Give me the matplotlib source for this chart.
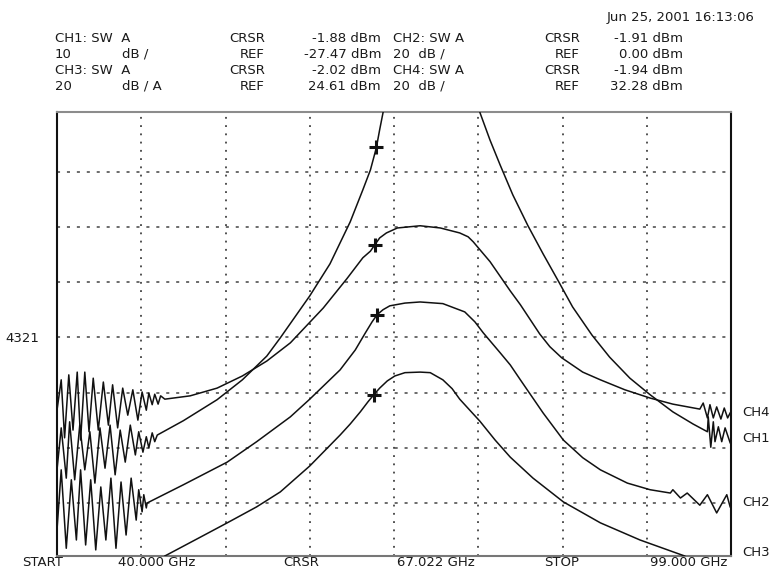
import matplotlib
matplotlib.use("Agg")
import matplotlib.pyplot as plt

W, H = 774, 571

# traces, x and y in graticule divisions (8 x 8)
ch1_x = [0.00, 0.05, 0.11, 0.15, 0.21, 0.27, 0.33, 0.39, 0.45, 0.51, 0.57, 0.63,
         0.69, 0.75, 0.81, 0.87, 0.93, 0.97, 1.02, 1.06, 1.09, 1.13, 1.16, 1.19,
         1.50, 1.90, 2.20, 2.49, 2.65, 3.00, 3.24, 3.48, 3.63, 3.72, 3.79, 3.83,
         3.87, 3.89, 5.00, 5.02, 5.14, 5.26, 5.41, 5.59, 5.77, 5.95, 6.12, 6.35,
         6.56, 6.80, 7.04, 7.31, 7.55, 7.72, 7.73, 7.76, 7.79, 7.81, 7.85, 7.89,
         7.93, 7.99]
ch1_y = [1.60, 2.36, 1.45, 2.47, 1.42, 2.41, 1.60, 2.29, 1.36, 2.36, 1.63, 2.41,
         1.51, 2.32, 1.74, 2.41, 1.87, 2.29, 1.92, 2.20, 2.00, 2.27, 2.11, 2.23,
         2.49, 2.87, 3.23, 3.66, 3.99, 4.75, 5.33, 6.09, 6.67, 7.03, 7.43, 7.76,
         8.07, 8.30, 8.30, 8.07, 7.57, 7.12, 6.58, 6.02, 5.51, 5.02, 4.55, 4.04,
         3.64, 3.26, 2.96, 2.65, 2.43, 2.29, 2.56, 2.01, 2.47, 2.11, 2.38, 2.11,
         2.36, 2.09]

ch4_x = [0.00, 0.05, 0.09, 0.14, 0.19, 0.24, 0.28, 0.33, 0.38, 0.43, 0.49, 0.55,
         0.61, 0.66, 0.72, 0.78, 0.84, 0.90, 0.96, 1.01, 1.06, 1.09, 1.13, 1.16,
         1.20, 1.23, 1.28, 1.58, 1.90, 2.20, 2.49, 2.77, 3.16, 3.44, 3.63, 3.72,
         3.77, 3.83, 3.91, 4.04, 4.31, 4.55, 4.78, 4.88, 4.94, 5.14, 5.38, 5.50,
         5.73, 5.85, 5.99, 6.24, 6.45, 6.74, 7.04, 7.31, 7.63, 7.67, 7.72, 7.75,
         7.79, 7.83, 7.88, 7.92, 7.96, 7.99]
ch4_y = [2.68, 3.23, 2.18, 3.32, 2.32, 3.37, 2.14, 3.37, 2.29, 3.26, 2.32, 3.19,
         2.41, 3.14, 2.36, 3.08, 2.59, 3.05, 2.50, 3.01, 2.68, 2.99, 2.78, 2.97,
         2.79, 2.94, 2.88, 2.94, 3.08, 3.30, 3.57, 3.90, 4.53, 5.06, 5.44, 5.56,
         5.67, 5.80, 5.89, 5.98, 6.02, 5.98, 5.89, 5.82, 5.73, 5.37, 4.84, 4.59,
         4.06, 3.83, 3.63, 3.37, 3.23, 3.05, 2.90, 2.79, 2.70, 2.81, 2.54, 2.78,
         2.54, 2.74, 2.52, 2.72, 2.54, 2.63]

ch2_x = [0.00, 0.05, 0.11, 0.17, 0.23, 0.28, 0.34, 0.40, 0.46, 0.52, 0.58, 0.64,
         0.70, 0.76, 0.82, 0.88, 0.94, 0.97, 1.01, 1.03, 1.06, 1.07, 1.50, 2.02,
         2.37, 2.77, 3.00, 3.36, 3.54, 3.66, 3.74, 3.80, 3.87, 3.95, 4.13, 4.31,
         4.58, 4.84, 4.96, 5.06, 5.26, 5.38, 5.50, 5.77, 6.01, 6.24, 6.45, 6.77,
         7.04, 7.28, 7.31, 7.40, 7.48, 7.63, 7.72, 7.83, 7.95, 7.99]
ch2_y = [0.51, 1.60, 0.18, 1.42, 0.33, 1.60, 0.24, 1.42, 0.15, 1.29, 0.33, 1.45,
         0.18, 1.38, 0.42, 1.45, 0.69, 1.24, 0.84, 1.15, 0.91, 1.00, 1.33, 1.74,
         2.11, 2.56, 2.88, 3.41, 3.77, 4.08, 4.28, 4.41, 4.50, 4.57, 4.62, 4.64,
         4.61, 4.46, 4.28, 4.08, 3.72, 3.50, 3.23, 2.63, 2.14, 1.82, 1.60, 1.36,
         1.24, 1.18, 1.24, 1.09, 1.18, 0.96, 1.15, 0.82, 1.15, 0.93]

ch3_x = [1.28, 1.70, 2.02, 2.37, 2.65, 3.00, 3.36, 3.48, 3.60, 3.69, 3.76, 3.83,
         3.92, 4.01, 4.13, 4.31, 4.43, 4.58, 4.69, 4.78, 4.90, 5.02, 5.20, 5.38,
         5.65, 6.01, 6.45, 6.92, 7.45]
ch3_y = [0.04, 0.38, 0.64, 0.93, 1.20, 1.67, 2.23, 2.43, 2.65, 2.83, 2.96, 3.08,
         3.21, 3.30, 3.36, 3.37, 3.36, 3.23, 3.07, 2.88, 2.68, 2.48, 2.14, 1.83,
         1.45, 1.02, 0.64, 0.33, 0.04]

# cursor markers (CH1, CH4, CH2, CH3)
crsr_x = [3.79, 3.77, 3.80, 3.76]
crsr_y = [7.45, 5.67, 4.41, 2.96]

ch_names = ["CH1: SW  A", "10", "CH3: SW  A", "20"]
scale_txt = ["", "dB /", "", "dB / A"]
left_kind = ["CRSR", "REF", "CRSR", "REF"]
left_vals = ["-1.88 dBm", "-27.47 dBm", "-2.02 dBm", "24.61 dBm"]
right_names = ["CH2: SW A", "20  dB /", "CH4: SW A", "20  dB /"]
right_kind = ["CRSR", "REF", "CRSR", "REF"]
right_vals = ["-1.91 dBm", "0.00 dBm", "-1.94 dBm", "32.28 dBm"]
stamp = "Jun 25, 2001 16:13:06"
right_labels = ["CH4", "CH1", "CH2", "CH3"]
right_label_y = [412, 439, 503, 553]
bottom_labels = ["START", "40.000 GHz", "CRSR", "67.022 GHz", "STOP", "99.000 GHz"]
bottom_label_cx = [43, 157, 301, 436, 562, 689]

FS = 9.5
FONT = "DejaVu Sans"


def put(px, py, s, ha="left"):
    fig.text(px / W, 1 - py / H, s, ha=ha, va="center", fontsize=FS,
             family=FONT, color="#1a1a1a")


fig = plt.figure(figsize=(W / 100, H / 100), dpi=100)
ax = fig.add_axes([57 / W, 15 / H, 674 / W, 444 / H])

for k in range(1, 8):
    ax.axvline(k, color="#222222", lw=1.1, ls=(0, (1.2, 4.2)), zorder=1)
    ax.axhline(k, color="#444444", lw=1.1, ls=(0, (2.0, 4.5)), zorder=1)

for xs, ys in [(ch1_x, ch1_y), (ch4_x, ch4_y), (ch2_x, ch2_y), (ch3_x, ch3_y)]:
    ax.plot(xs, ys, color="#111111", lw=1.1, zorder=3)
ax.plot(crsr_x, crsr_y, ls="none", marker="+", ms=10, mew=2.2,
        color="#111111", zorder=4)

ax.set_xlim(0, 8)
ax.set_ylim(0.04, 8.08)
ax.set_xticks([])
ax.set_yticks([])
for side in ["left", "right"]:
    ax.spines[side].set_color("#111111")
    ax.spines[side].set_linewidth(1.5)
ax.spines["top"].set_color("#8c8c8c")
ax.spines["top"].set_linewidth(1.5)
ax.spines["bottom"].set_color("#777777")
ax.spines["bottom"].set_linewidth(1.5)

# header block
row_y = [38, 54, 70, 86]
for r in range(4):
    put(55, row_y[r], ch_names[r])
    if scale_txt[r]:
        put(122, row_y[r], scale_txt[r])
    put(265, row_y[r], left_kind[r], ha="right")
    put(381, row_y[r], left_vals[r], ha="right")
    put(393, row_y[r], right_names[r])
    put(580, row_y[r], right_kind[r], ha="right")
    put(683, row_y[r], right_vals[r], ha="right")
put(755, 18, stamp, ha="right")

put(39, 338, "4321", ha="right")
for lab, y in zip(right_labels, right_label_y):
    put(742, y, lab)
for lab, x in zip(bottom_labels, bottom_label_cx):
    put(x, 563, lab, ha="center")

fig.savefig("out.png", dpi=100)
